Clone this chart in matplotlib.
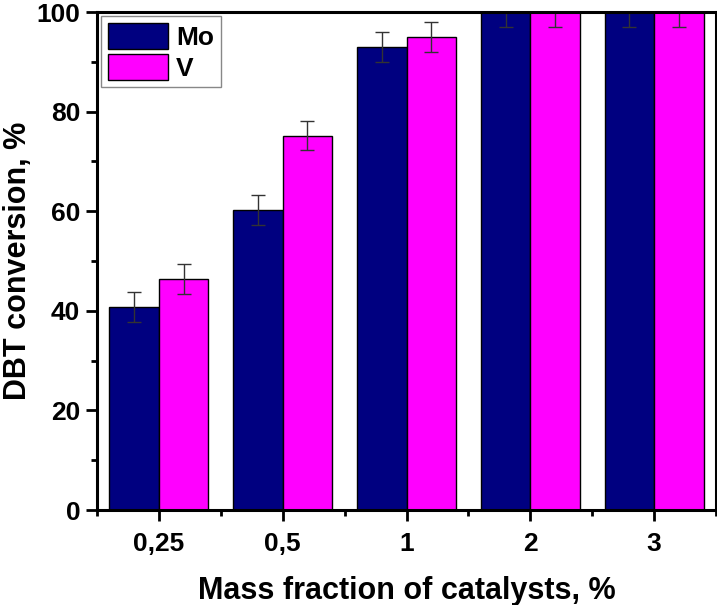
import numpy as np
import matplotlib.pyplot as plt
from matplotlib.ticker import MultipleLocator, FixedLocator

categories = ["0,25", "0,5", "1", "2", "3"]
mo_values = [40.7, 60.2, 93.0, 100.0, 100.0]
v_values = [46.4, 75.2, 95.0, 100.0, 100.0]
mo_err = [3.0, 3.0, 3.0, 3.0, 3.0]
v_err = [3.0, 3.0, 3.0, 3.0, 3.0]

plt.rcParams["font.family"] = ["Liberation Sans", "DejaVu Sans"]
plt.rcParams["font.weight"] = "bold"

fig = plt.figure(figsize=(7.17, 6.05), dpi=100)
ax = fig.add_axes([97 / 717, 95 / 605, 619 / 717, 498 / 605])

x = np.arange(len(categories))
w = 0.4
ax.bar(x - w / 2, mo_values, w, color="#000080", edgecolor="black", linewidth=1, label="Mo")
ax.bar(x + w / 2, v_values, w, color="#ff00ff", edgecolor="black", linewidth=1, label="V")
ax.errorbar(x - w / 2, mo_values, yerr=mo_err, fmt="none", ecolor="#333333",
            elinewidth=1, capsize=5, capthick=1)
ax.errorbar(x + w / 2, v_values, yerr=v_err, fmt="none", ecolor="#333333",
            elinewidth=1, capsize=5, capthick=1)

ax.set_xlim(-0.5, 4.5)
ax.set_ylim(0, 100)
ax.set_xticks(x)
ax.set_xticklabels(categories)
ax.xaxis.set_minor_locator(FixedLocator(np.arange(-0.5, 5, 1.0)))
ax.yaxis.set_major_locator(MultipleLocator(20))
ax.yaxis.set_minor_locator(MultipleLocator(10))

for s in ax.spines.values():
    s.set_linewidth(2.2)
ax.tick_params(which="major", direction="out", length=8, width=2, labelsize=19)
ax.tick_params(axis="x", which="major", pad=8)
ax.tick_params(axis="y", which="major", pad=4)
ax.tick_params(which="minor", direction="out", length=4, width=2)
ax.tick_params(top=False, right=False)

ax.set_xlabel("Mass fraction of catalysts, %", fontsize=22, fontweight="bold", labelpad=14)
ax.set_ylabel("DBT conversion, %", fontsize=22, fontweight="bold")
ax.yaxis.set_label_coords(-0.103, 0.5)

leg = ax.legend(loc="upper left", fontsize=19, handlelength=2.3, handleheight=1.15,
                borderaxespad=0.15, borderpad=0.25, labelspacing=0.15, handletextpad=0.3,
                fancybox=False, framealpha=1, edgecolor="#888888")
for t in leg.get_texts():
    t.set_fontweight("bold")

fig.savefig("out.png", dpi=100)
